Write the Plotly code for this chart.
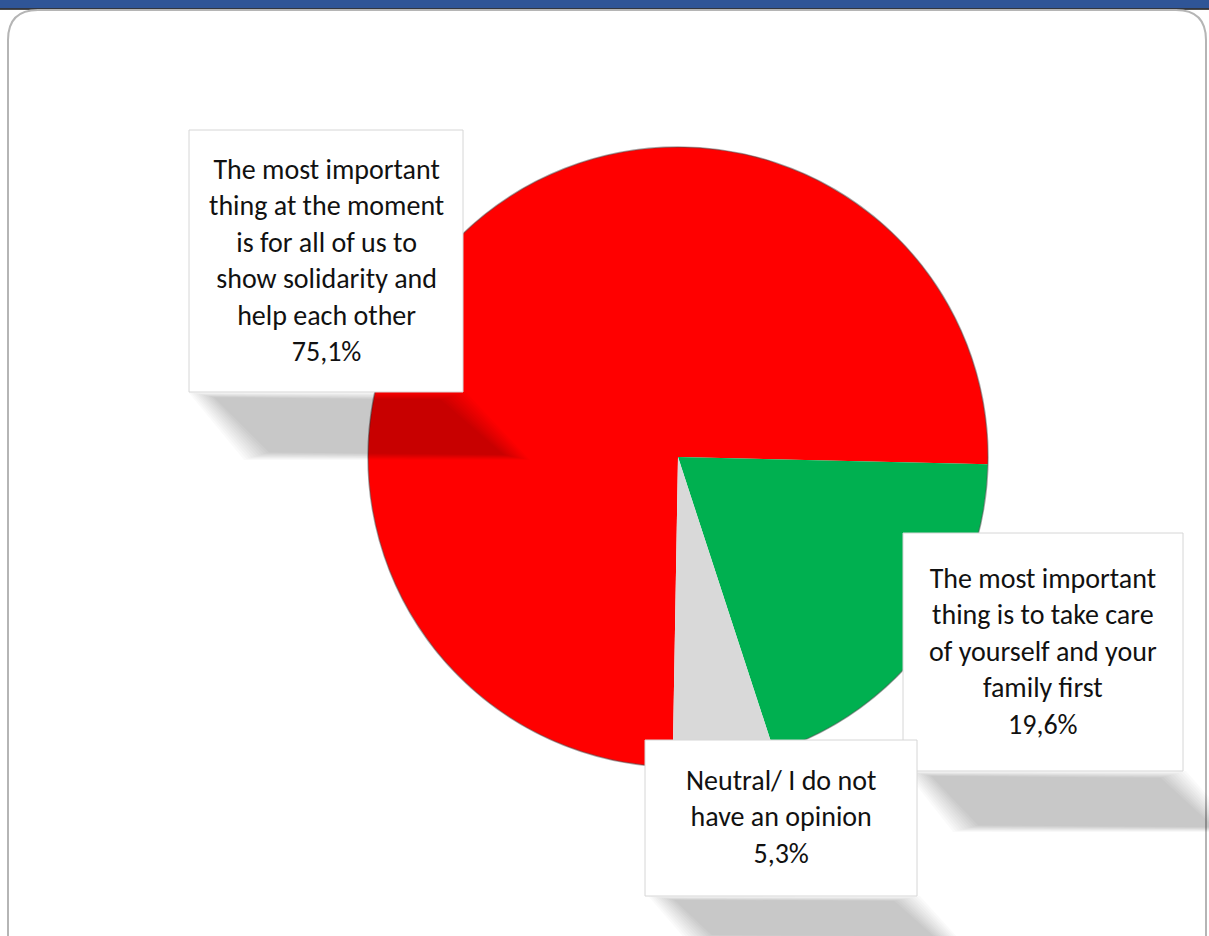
import plotly.graph_objects as go

# Survey answers and shares (%)
labels = [
    "The most important thing at the moment is for all of us to show solidarity and help each other",
    "The most important thing is to take care of yourself and your family first",
    "Neutral/ I do not have an opinion",
]
label_lines = [
    ["The most important", "thing at the moment", "is for all of us to", "show solidarity and", "help each other"],
    ["The most important", "thing is to take care", "of yourself and your", "family first"],
    ["Neutral/ I do not", "have an opinion"],
]
shares = [75.1, 19.6, 5.3]
colors = ["#FF0000", "#00B050", "#D9D9D9"]

W, H = 1209, 936
FONT = "Calibri, Carlito, Lato, sans-serif"


def px(x, y):
    return x / W, 1 - y / H


def path(points):
    pts = [px(x, y) for x, y in points]
    return "M " + " L ".join(f"{a:.5f},{b:.5f}" for a, b in pts) + " Z"


# pie geometry (pixels)
cx, cy, r = 678, 457, 310

fig = go.Figure(
    go.Pie(
        labels=labels,
        values=shares,
        sort=False,
        direction="clockwise",
        rotation=181,
        marker=dict(colors=colors, line=dict(width=0)),
        textinfo="none",
        hoverinfo="label+percent",
        showlegend=False,
        domain=dict(x=[(cx - r) / W, (cx + r) / W], y=[(H - cy - r) / H, (H - cy + r) / H]),
    )
)

shapes = []

# header band and rounded panel
shapes.append(dict(type="rect", xref="paper", yref="paper", x0=0, x1=1, y0=1 - 8.5 / H, y1=1,
                   fillcolor="#2F5597", line=dict(width=0), layer="below"))
shapes.append(dict(type="line", xref="paper", yref="paper", x0=0, x1=1, y0=1 - 9 / H, y1=1 - 9 / H,
                   line=dict(color="#111111", width=1.5), layer="below"))
rad = 30
panel = "M {:.5f},{:.5f} L {:.5f},{:.5f} ".format(*px(8, 960), *px(8, 10 + rad))
panel += "Q {:.5f},{:.5f} {:.5f},{:.5f} ".format(*px(8, 10), *px(8 + rad, 10))
panel += "L {:.5f},{:.5f} ".format(*px(1206 - rad, 10))
panel += "Q {:.5f},{:.5f} {:.5f},{:.5f} ".format(*px(1206, 10), *px(1206, 10 + rad))
panel += "L {:.5f},{:.5f}".format(*px(1206, 960))
shapes.append(dict(type="path", xref="paper", yref="paper", path=panel,
                   line=dict(color="#B5B5B5", width=2), layer="below"))

# thin rim around the pie
x0, y0 = px(cx - r, cy - r)
x1, y1 = px(cx + r, cy + r)
shapes.append(dict(type="circle", xref="paper", yref="paper", x0=x0, x1=x1, y0=y0, y1=y1,
                   line=dict(color="rgba(80,80,80,0.5)", width=1.5), layer="above"))

# label boxes (pixels) and their cast shadows
boxes = [
    (189, 130, 463, 392),
    (903, 533, 1183, 771),
    (645, 740, 917, 896),
]
shadows = [
    [(188, 392), (466, 392), (530, 460), (244, 460)],
    [(905, 771), (1186, 771), (1240, 832), (953, 832)],
    [(648, 896), (920, 896), (960, 940), (686, 940)],
]


def soft_quad(quad, layers=11, step=2.6, alpha=0.021):
    gx = sum(q[0] for q in quad) / 4
    gy = sum(q[1] for q in quad) / 4
    out = []
    for k in range(layers):
        d = k * step
        pts = []
        for qx, qy in quad:
            vx, vy = gx - qx, gy - qy
            n = (vx * vx + vy * vy) ** 0.5
            pts.append((qx + vx / n * d, qy + vy / n * d))
        out.append(dict(type="path", xref="paper", yref="paper", path=path(pts),
                        fillcolor=f"rgba(0,0,0,{alpha})", line=dict(width=0), layer="above"))
    return out


for sq in shadows:
    shapes.extend(soft_quad(sq))

for bx0, by0, bx1, by1 in boxes:
    a0, b0 = px(bx0, by1)
    a1, b1 = px(bx1, by0)
    shapes.append(dict(type="rect", xref="paper", yref="paper", x0=a0, x1=a1, y0=b0, y1=b1,
                       fillcolor="white", line=dict(color="#D6D6D6", width=1), layer="above"))

annotations = []
for lines, val, (bx0, by0, bx1, by1) in zip(label_lines, shares, boxes):
    txt = "<br>".join(lines + [f"{val:.1f}%".replace(".", ",")])
    ax, ay = px((bx0 + bx1) / 2, (by0 + by1) / 2 - 1)
    annotations.append(dict(xref="paper", yref="paper", x=ax, y=ay, text=txt, showarrow=False,
                            xanchor="center", yanchor="middle", align="center",
                            font=dict(family=FONT, size=28, color="#111111")))

fig.update_layout(
    width=W, height=H,
    margin=dict(l=0, r=0, t=0, b=0),
    paper_bgcolor="white",
    plot_bgcolor="white",
    shapes=shapes,
    annotations=annotations,
)

fig.write_html("out.html")
